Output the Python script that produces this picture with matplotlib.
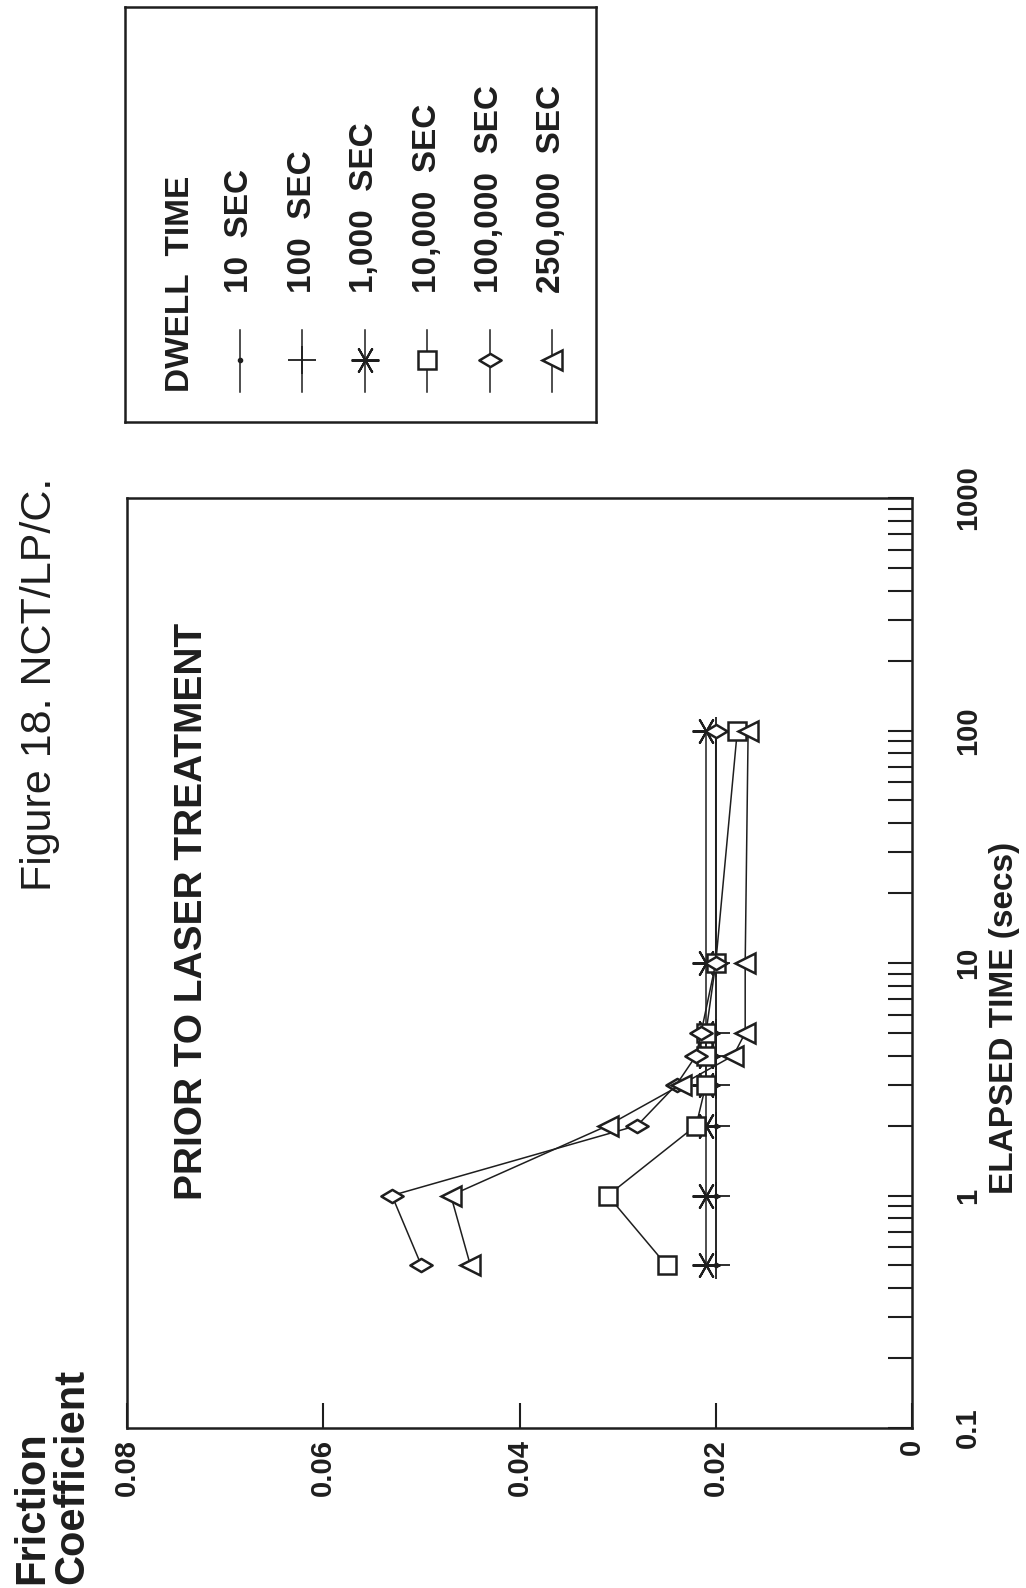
import matplotlib
matplotlib.use("Agg")
import matplotlib.pyplot as plt
from matplotlib.path import Path
from matplotlib.ticker import LogLocator, NullFormatter, FixedLocator

plt.rcParams['font.family'] = ['Liberation Sans', 'DejaVu Sans']

# ---------------- data ----------------
elapsed_time = [0.5, 1, 2, 3, 4, 5, 10, 100]          # secs
fric_10s     = [0.020, 0.020, 0.020, 0.020, 0.020, 0.020, 0.020, 0.020]
fric_100s    = [0.020, 0.020, 0.020, 0.020, 0.020, 0.020, 0.020, 0.020]
fric_1000s   = [0.021, 0.021, 0.021, 0.021, 0.021, 0.021, 0.021, 0.021]
fric_10000s  = [0.025, 0.031, 0.022, 0.021, 0.021, 0.021, 0.020, 0.0178]
fric_100000s = [0.050, 0.053, 0.028, 0.024, 0.022, 0.0215, 0.020, 0.020]
fric_250000s = [0.045, 0.047, 0.031, 0.0235, 0.0182, 0.017, 0.017, 0.0167]

dwell_labels = ["10  SEC", "100  SEC", "1,000  SEC", "10,000  SEC",
                "100,000  SEC", "250,000  SEC"]
friction_ticks = [0.08, 0.06, 0.04, 0.02, 0.0]
friction_tick_labels = ["0.08", "0.06", "0.04", "0.02", "0"]
time_ticks = [0.1, 1, 10, 100, 1000]
time_tick_labels = ["0.1", "1", "10", "100", "1000"]

# ---------------- styles ----------------
INK = "#1e1e1e"
diamond = Path([(-1.35, 0), (0, 0.8), (1.35, 0), (0, -0.8), (-1.35, 0)],
               [Path.MOVETO, Path.LINETO, Path.LINETO, Path.LINETO, Path.CLOSEPOLY])
marker_styles = [
    dict(marker='o', markersize=3, markerfacecolor=INK),
    dict(marker='+', markersize=20, markeredgewidth=1.3),
    dict(marker=(6, 2, 90), markersize=20, markeredgewidth=1.5),
    dict(marker='s', markersize=13, markerfacecolor='white', markeredgewidth=1.8),
    dict(marker=diamond, markersize=16, markerfacecolor='white', markeredgewidth=1.8),
    dict(marker='<', markersize=15, markerfacecolor='white', markeredgewidth=1.8),
]
series = [fric_10s, fric_100s, fric_1000s, fric_10000s, fric_100000s, fric_250000s]

W, H = 1026, 1588
fig = plt.figure(figsize=(W / 100, H / 100), dpi=100)
fig.patch.set_facecolor('white')

# ---------------- main axes (rotated page) ----------------
L, R, T, B = 127, 912, 498, 1428
ax = fig.add_axes([L / W, 1 - B / H, (R - L) / W, (B - T) / H])
for f, st in zip(series, marker_styles):
    ax.plot(f, elapsed_time, color=INK, linewidth=1.1, markeredgecolor=INK,
            clip_on=False, **st)

ax.set_xlim(0.08, 0.0)
ax.set_yscale('log')
ax.set_ylim(0.1, 1000)

ax.set_xticks(friction_ticks)
ax.set_xticklabels(friction_tick_labels, rotation=90, fontsize=21,
                   fontweight='bold', color=INK)
ax.tick_params(axis='x', direction='in', length=18, width=1.5,
               bottom=True, top=False, pad=8, colors=INK)

ax.yaxis.tick_right()
ax.yaxis.set_major_locator(FixedLocator(time_ticks))
ax.set_yticklabels(time_tick_labels, rotation=90, va='center', fontsize=21,
                   fontweight='bold', color=INK)
ax.yaxis.set_minor_locator(LogLocator(base=10, subs=range(2, 10)))
ax.yaxis.set_minor_formatter(NullFormatter())
ax.tick_params(axis='y', which='both', direction='in', length=17, width=1.5,
               left=False, right=True, pad=30, colors=INK)
for sp in ax.spines.values():
    sp.set_linewidth(1.8)
    sp.set_color(INK)

ax.text(0.083, 0.555, "PRIOR TO LASER TREATMENT", transform=ax.transAxes,
        rotation=90, ha='center', va='center', fontsize=28, fontweight='bold',
        color=INK)

# ---------------- figure texts ----------------
fig.text(40 / W, 1 - 684 / H, "Figure 18. NCT/LP/C.", rotation=90,
         ha='center', va='center', fontsize=31, color=INK)
fig.text(1004 / W, 1 - 1018 / H, "ELAPSED TIME (secs)", rotation=90,
         ha='center', va='center', fontsize=24, fontweight='bold', color=INK)
fig.text(12 / W, 4 / H, "Friction\nCoefficient", rotation=90, ha='left',
         va='bottom', multialignment='left', fontsize=30, fontweight='bold',
         color=INK, linespacing=1.0)

# ---------------- legend (rotated) ----------------
LL, LR, LT, LB = 125, 596, 7, 422
lax = fig.add_axes([LL / W, 1 - LB / H, (LR - LL) / W, (LB - LT) / H])
lax.set_xlim(0, 1)
lax.set_ylim(0, 1)
lax.set_xticks([])
lax.set_yticks([])
for sp in lax.spines.values():
    sp.set_linewidth(1.8)
    sp.set_color(INK)

lax.text(0.117, 0.072, "DWELL  TIME", rotation=90, ha='center', va='bottom',
         fontsize=24, fontweight='bold', color=INK)
x0, dx = 0.244, 0.1325
for i, (lab, st) in enumerate(zip(dwell_labels, marker_styles)):
    xc = x0 + i * dx
    lax.plot([xc, xc], [0.072, 0.222], color=INK, linewidth=1.1)
    lax.plot([xc], [0.149], color=INK, markeredgecolor=INK, **st)
    lax.text(xc, 0.311, lab, rotation=90, ha='center', va='bottom',
             fontsize=24, fontweight='bold', color=INK)

fig.savefig("out.png", dpi=100, facecolor='white')
